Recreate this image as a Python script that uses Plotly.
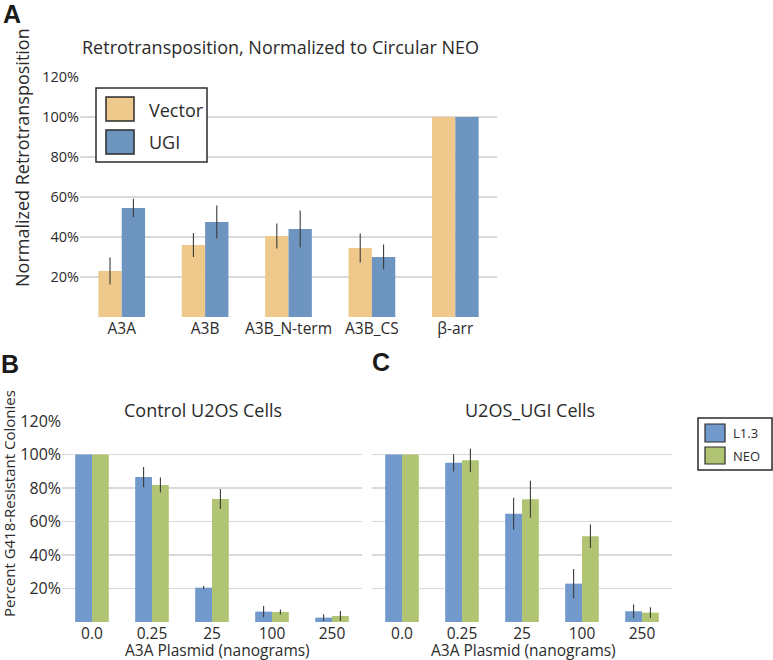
import plotly.graph_objects as go

# ---------------- Data ----------------
a_categories = ["A3A", "A3B", "A3B_N-term", "A3B_CS", "β-arr"]
a_vector = [23, 36, 40.5, 34.5, 100]
a_vector_err = [6.8, 6, 6.2, 7.2, 0]
a_ugi = [54.5, 47.5, 44, 30, 100]
a_ugi_err = [4.6, 8.2, 9.2, 6.2, 0]

dose_labels = ["0.0", "0.25", "25", "100", "250"]
b_l13 = [100, 86.5, 20.5, 6.2, 2.6]
b_l13_err = [0, 6, 1, 3.3, 2]
b_neo = [100, 81.8, 73.4, 6, 3.6]
b_neo_err = [0, 4.5, 6, 1.5, 3]

c_l13 = [100, 95, 64.7, 22.9, 6.4]
c_l13_err = [0, 5.2, 9.5, 8.7, 4]
c_neo = [100, 96.5, 73.3, 51.2, 5.6]
c_neo_err = [0, 7, 11, 7, 3.2]

y_ticks = [0, 20, 40, 60, 80, 100, 120]
y_tick_text = ["", "20%", "40%", "60%", "80%", "100%", "120%"]

# ---------------- Style ----------------
W, H = 773, 660
FONT = "Open Sans"
TXT = "#2b2b2b"
GRID = "#d9d9d9"
C_VECTOR = "#efc98c"
C_UGI = "#6d95bf"
C_L13 = "#7299cb"
C_NEO = "#b1c473"
ERR = dict(type="data", thickness=1.1, width=0, color="#3a3a3a")


def px_x(x):
    return x / W


def px_y(y):
    return 1 - y / H


fig = go.Figure()


def add_bar(x, y, err, color, xa, ya, name):
    fig.add_trace(go.Bar(
        x=x, y=y, name=name, marker=dict(color=color, line=dict(width=0)),
        error_y=dict(array=err, visible=True, **ERR),
        xaxis=xa, yaxis=ya, showlegend=False,
    ))


add_bar(a_categories, a_vector, a_vector_err, C_VECTOR, "x", "y", "Vector")
add_bar(a_categories, a_ugi, a_ugi_err, C_UGI, "x", "y", "UGI")
add_bar(dose_labels, b_l13, b_l13_err, C_L13, "x2", "y2", "L1.3")
add_bar(dose_labels, b_neo, b_neo_err, C_NEO, "x2", "y2", "NEO")
add_bar(dose_labels, c_l13, c_l13_err, C_L13, "x3", "y3", "L1.3")
add_bar(dose_labels, c_neo, c_neo_err, C_NEO, "x3", "y3", "NEO")

yaxis_common = dict(range=[0, 120], tickvals=y_ticks, showgrid=True,
                    gridcolor=GRID, gridwidth=1.5, zeroline=False,
                    showline=False, ticks="", fixedrange=True, automargin=False)
xaxis_common = dict(showgrid=False, zeroline=False, showline=False, ticks="",
                    fixedrange=True, automargin=False)

fig.update_layout(
    width=W, height=H,
    margin=dict(l=0, r=0, t=0, b=0, autoexpand=False),
    paper_bgcolor="white", plot_bgcolor="white",
    font=dict(family=FONT, color=TXT),
    barmode="group", bargap=0.44, bargroupgap=0,
    xaxis=dict(domain=[px_x(80), px_x(497)], anchor="y",
               tickfont=dict(size=15.5, color=TXT), **xaxis_common),
    yaxis=dict(domain=[px_y(317), px_y(77)], anchor="x",
               ticktext=y_tick_text, tickfont=dict(size=14.5, color=TXT),
               **yaxis_common),
    xaxis2=dict(domain=[px_x(62), px_x(362)], anchor="y2",
                tickfont=dict(size=15.5, color=TXT), **xaxis_common),
    yaxis2=dict(domain=[px_y(622), px_y(421)], anchor="x2",
                ticktext=y_tick_text, tickfont=dict(size=16, color=TXT),
                **yaxis_common),
    xaxis3=dict(domain=[px_x(372), px_x(672)], anchor="y3",
                tickfont=dict(size=15.5, color=TXT), **xaxis_common),
    yaxis3=dict(domain=[px_y(622), px_y(421)], anchor="x3",
                showticklabels=False, **yaxis_common),
)

ann = []


def text(x, y, s, size, bold=False, angle=0, xanchor="center", family=FONT):
    ann.append(dict(
        x=px_x(x), y=px_y(y), xref="paper", yref="paper", text=s,
        showarrow=False, xanchor=xanchor, yanchor="middle", textangle=angle,
        font=dict(size=size, family=family, color=TXT if not bold else "#1a1a1a",
                  weight="bold" if bold else "normal"),
    ))


# panel labels
text(12, 14, "A", 25, bold=True, family="Liberation Sans")
text(10, 364, "B", 25, bold=True, family="Liberation Sans")
text(381, 362, "C", 25, bold=True, family="Liberation Sans")

# titles
text(280, 47, "Retrotransposition, Normalized to Circular NEO", 18)
text(203, 410, "Control U2OS Cells", 18)
text(530, 410, "U2OS_UGI Cells", 18)

# axis titles
text(22, 158, "Normalized Retrotransposition", 18, angle=-90)
text(9, 504, "Percent G418-Resistant Colonies", 15, angle=-90)
text(217, 650, "A3A Plasmid (nanograms)", 15.5)
text(523, 650, "A3A Plasmid (nanograms)", 15.5)

shapes = []


def rect(x0, y0, x1, y1, fill, line_color="#2b2b2b", lw=1.5):
    shapes.append(dict(type="rect", xref="paper", yref="paper",
                       x0=px_x(x0), x1=px_x(x1), y0=px_y(y1), y1=px_y(y0),
                       fillcolor=fill, line=dict(color=line_color, width=lw)))


# legend A
rect(96, 88, 207, 162, "white", lw=1.5)
rect(106, 97, 134, 121, C_VECTOR, lw=1.5)
rect(106, 130, 134, 154, C_UGI, lw=1.5)
text(147, 110, "Vector", 18, xanchor="left")
text(147, 142, "UGI", 18, xanchor="left")

# legend B/C
rect(698, 418, 772, 470, "white", lw=1.5)
rect(705, 424, 725, 442, C_L13, lw=1.2)
rect(705, 447, 725, 464, C_NEO, lw=1.2)
text(731, 433, "L1.3", 13, xanchor="left")
text(731, 456, "NEO", 13, xanchor="left")

fig.update_layout(annotations=ann, shapes=shapes)

fig.write_html(
    "out.html",
    config={"displayModeBar": False, "staticPlot": True},
    post_script="document.body.style.margin='0px';document.body.style.overflow='hidden';",
)
